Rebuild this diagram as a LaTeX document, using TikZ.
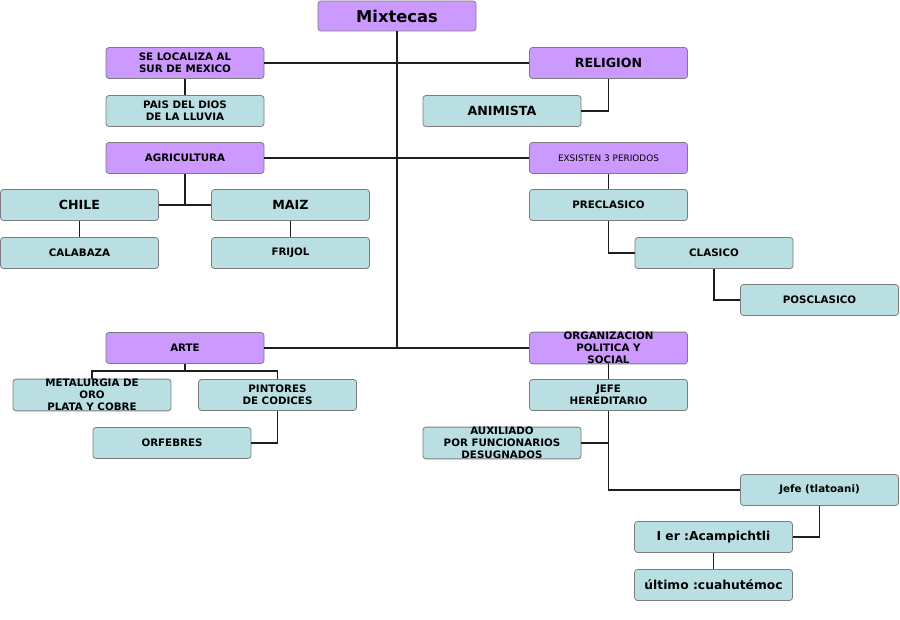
\documentclass[tikz,border=0pt]{standalone}
\usepackage{fontspec}
\setmainfont{DejaVu Sans}
\definecolor{purp}{RGB}{204,153,255}
\definecolor{cyanb}{RGB}{185,223,227}
\definecolor{edgeg}{RGB}{125,125,125}
\definecolor{linec}{RGB}{30,30,30}
\begin{document}
\begin{tikzpicture}[x=1pt,y=-1pt,
  box/.style={draw=edgeg,line width=0.8pt,rounded corners=3pt,minimum width=158pt,minimum height=31pt,inner sep=0pt,align=center,font=\bfseries\fontsize{10.3}{12}\selectfont},
  pbox/.style={box,fill=purp},
  cbox/.style={box,fill=cyanb},
  big/.style={font=\bfseries\fontsize{12.6}{14}\selectfont},
  conn/.style={draw=linec,line width=1.7pt}]
\useasboundingbox (0,0) rectangle (900,620);
% nodes
\node[pbox,font=\bfseries\fontsize{16.3}{18}\selectfont,minimum height=30pt] (mix) at (397,16) {Mixtecas};
\node[pbox] (se) at (185,63) {SE LOCALIZA AL\\SUR DE MEXICO};
\node[pbox,big] (rel) at (608.5,63) {RELIGION};
\node[cbox] (pais) at (185,111) {PAIS DEL DIOS\\DE LA LLUVIA};
\node[cbox,big] (ani) at (502,111) {ANIMISTA};
\node[pbox] (agr) at (185,158) {AGRICULTURA};
\node[pbox,font=\fontsize{8.9}{10}\selectfont] (exs) at (608.5,158) {EXSISTEN 3 PERIODOS};
\node[cbox,big] (chile) at (79.5,205) {CHILE};
\node[cbox,big] (maiz) at (290.5,205) {MAIZ};
\node[cbox] (cala) at (79.5,253) {CALABAZA};
\node[cbox] (frij) at (290.5,253) {FRIJOL};
\node[cbox] (pre) at (608.5,205) {PRECLASICO};
\node[cbox] (cla) at (714,253) {CLASICO};
\node[cbox] (pos) at (819.5,300) {POSCLASICO};
\node[pbox] (arte) at (185,348) {ARTE};
\node[pbox] (org) at (608.5,348) {ORGANIZACION\\POLITICA Y\\SOCIAL};
\node[cbox] (met) at (92,395) {METALURGIA DE\\ORO\\PLATA Y COBRE};
\node[cbox] (pin) at (277.5,395) {PINTORES\\DE CODICES};
\node[cbox] (orf) at (172,443) {ORFEBRES};
\node[cbox] (jefe) at (608.5,395) {JEFE\\HEREDITARIO};
\node[cbox] (aux) at (502,443) {AUXILIADO\\POR FUNCIONARIOS\\DESUGNADOS};
\node[cbox] (tla) at (819.5,490) {Jefe (tlatoani)};
\node[cbox,font=\bfseries\fontsize{12.3}{14}\selectfont] (ier) at (713.5,537) {I er :Acampichtli};
\node[cbox,font=\bfseries\fontsize{12.3}{14}\selectfont] (ult) at (713.5,585) {último :cuahutémoc};
\coordinate (agrj) at (185,205);
\coordinate (artej) at (185,371);
% connectors
\begin{scope}[on background layer/.style={}]
\draw[conn] (mix.south) |- (arte.east);
\draw[conn] (arte.east) -- (org.west);
\draw[conn] (se.east) -- (rel.west);
\draw[conn] (agr.east) -- (exs.west);
\draw[conn] (se.south) -- (pais.north);
\draw[conn] (rel.south) |- (ani.east);
\draw[conn] (agr.south) -- (agrj);
\draw[conn] (chile.east) -- (maiz.west);
\draw[conn] (chile.south) -- (cala.north);
\draw[conn] (maiz.south) -- (frij.north);
\draw[conn] (exs.south) -- (pre.north);
\draw[conn] (pre.south) |- (cla.west);
\draw[conn] (cla.south) |- (pos.west);
\draw[conn] (arte.south) -- (artej);
\draw[conn] (met.north) -- (met.north |- artej) -- (pin.north |- artej) -- (pin.north);
\draw[conn] (pin.south) |- (orf.east);
\draw[conn] (org.south) -- (jefe.north);
\draw[conn] (jefe.south) |- (tla.west);
\draw[conn] (aux.east) -- (aux.east -| jefe.south);
\draw[conn] (tla.south) |- (ier.east);
\draw[conn] (ier.south) -- (ult.north);
\end{scope}
\end{tikzpicture}
\end{document}
